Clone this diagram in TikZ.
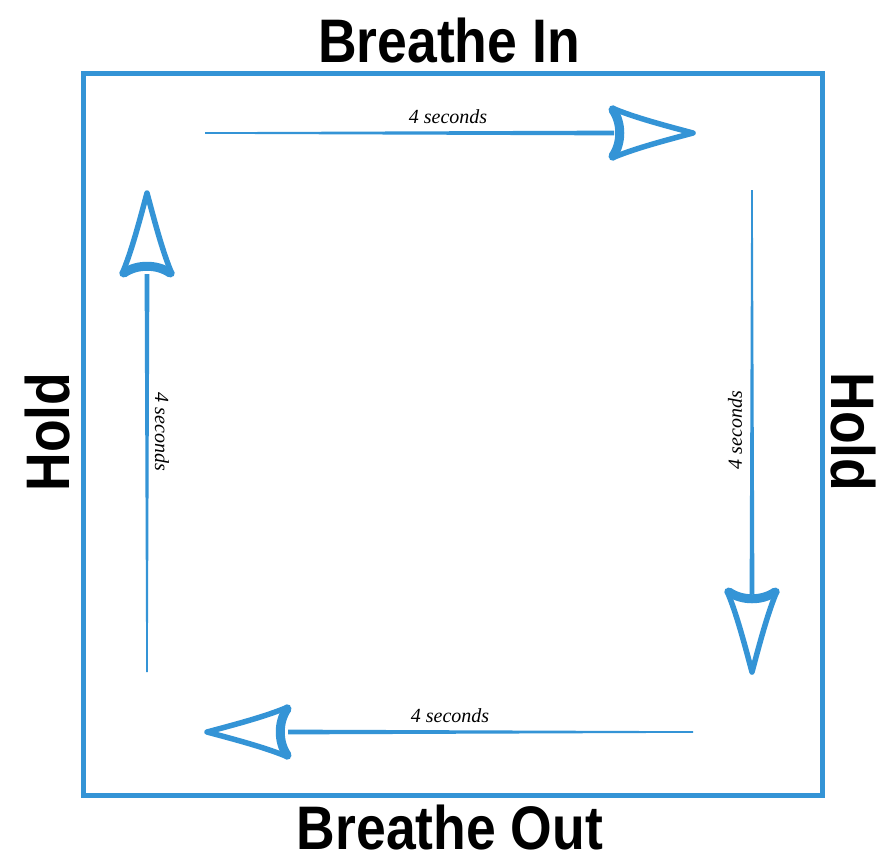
\documentclass[tikz,border=0pt]{standalone}
\usepackage{fontspec}
\usetikzlibrary{calc}
\newfontfamily\titlefont{Liberation Sans}[FakeStretch=0.87]
\newfontfamily\secfont{Liberation Serif}
\definecolor{breathblue}{RGB}{52,148,214}
\tikzset{
  frame/.style={draw=breathblue, line width=5pt},
  title/.style={font=\titlefont\bfseries\fontsize{61.5}{70}\selectfont, text=black, anchor=base, inner sep=0pt},
  secs/.style={font=\secfont\itshape\fontsize{20}{24}\selectfont, text=black, inner sep=0pt},
  stroke/.style={fill=breathblue},
  handhead/.pic={
    \draw[draw=breathblue, fill=white, line width=5.5pt, line join=round]
      (0,0) .. controls (-30,-8) and (-60,-16) .. (-81,-25)
      .. controls (-70,-10) and (-70,10) .. (-81,25)
      .. controls (-60,16) and (-30,8) .. (0,0) -- cycle;
    \draw[draw=breathblue, line width=9pt, line cap=round]
      (-80,-23) .. controls (-71,-10) and (-71,10) .. (-80,23);
  }
}
\begin{document}
\begin{tikzpicture}[x=1pt,y=-1pt]
\useasboundingbox (0,0) rectangle (891,860);
\fill[white] (0,0) rectangle (891,860);

% frame
\draw[frame] (83,73) rectangle (822,795);

% titles
\node[title] (tin) at (449,62) {Breathe In};
\node[title] (tout) at (450,849) {Breathe Out};
\node[title, rotate=90] (hleft) at (69,432) {Hold};
\node[title, rotate=-90] (hright) at (831,432) {Hold};

% arrow coordinates
\coordinate (ts) at (205,133); \coordinate (te) at (614,133); \coordinate (tt) at (693,133);
\coordinate (rs) at (752,190); \coordinate (re) at (752,594); \coordinate (rt) at (752,672);
\coordinate (bs) at (693,732); \coordinate (be) at (288,732); \coordinate (bt) at (207,732);
\coordinate (ls) at (147,672); \coordinate (le) at (147,274); \coordinate (lt) at (147,193);

% tapered strokes
\fill[stroke] ($(ts)+(0,-0.8)$) -- ($(te)+(0,-2.4)$) -- ($(te)+(0,2.4)$) -- ($(ts)+(0,0.8)$) -- cycle;
\fill[stroke] ($(rs)+(-0.8,0)$) -- ($(re)+(-2.4,0)$) -- ($(re)+(2.4,0)$) -- ($(rs)+(0.8,0)$) -- cycle;
\fill[stroke] ($(bs)+(0,-0.8)$) -- ($(be)+(0,-2.4)$) -- ($(be)+(0,2.4)$) -- ($(bs)+(0,0.8)$) -- cycle;
\fill[stroke] ($(ls)+(-0.8,0)$) -- ($(le)+(-2.4,0)$) -- ($(le)+(2.4,0)$) -- ($(ls)+(0.8,0)$) -- cycle;

% heads
\pic at (tt) {handhead};
\pic[rotate=-90] at (rt) {handhead};
\pic[rotate=180] at (bt) {handhead};
\pic[rotate=90] at (lt) {handhead};

% labels
\node[secs] (lt1) at (448,117) {4 seconds};
\node[secs] (lb1) at (450,716) {4 seconds};
\node[secs, rotate=-90] (ll1) at (162,432) {4 seconds};
\node[secs, rotate=90] (lr1) at (735,430) {4 seconds};
\end{tikzpicture}
\end{document}
